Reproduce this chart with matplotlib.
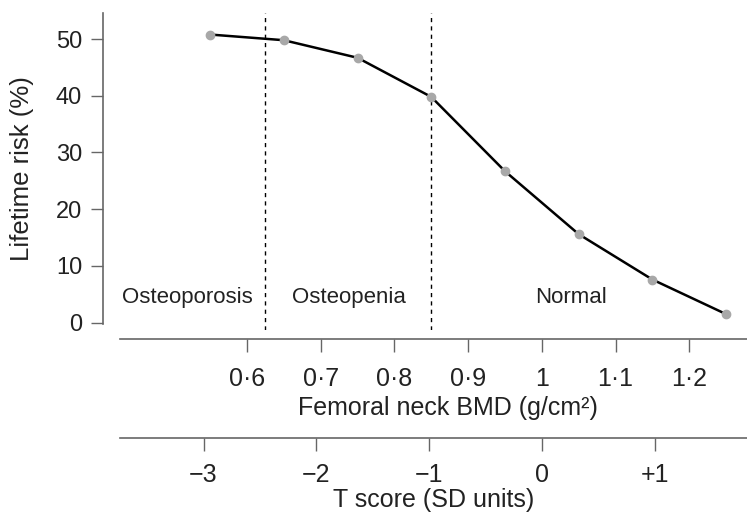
import matplotlib.pyplot as plt

# data
bmd = [0.55, 0.65, 0.75, 0.85, 0.95, 1.05, 1.15, 1.25]
risk = [50.8, 49.8, 46.7, 39.8, 26.7, 15.6, 7.6, 1.5]

bmd_ticks = [0.6, 0.7, 0.8, 0.9, 1.0, 1.1, 1.2]
bmd_labels = ['0·6', '0·7', '0·8', '0·9', '1', '1·1', '1·2']
t_ticks = [-3, -2, -1, 0, 1]
t_labels = ['\u22123', '\u22122', '\u22121', '0', '+1']
y_ticks = [0, 10, 20, 30, 40, 50]

cutoffs = [0.625, 0.85]  # T = -2.5 and T = -1
regions = ['Osteoporosis', 'Osteopenia', 'Normal']
region_x = [0.519, 0.738, 1.04]

# T score = (BMD - young adult mean) / SD
ref_mean = 1.0
ref_sd = 0.153


def to_t(x):
    return (x - ref_mean) / ref_sd


def to_bmd(t):
    return t * ref_sd + ref_mean


plt.rcParams['font.family'] = ['Liberation Sans', 'DejaVu Sans']
text_col = '#222222'
axis_col = '#666666'

fig = plt.figure(figsize=(7.47, 5.28), dpi=100)
ax = fig.add_axes([0.1379, 0.375, 0.8621, 0.6004])

ax.plot(bmd, risk, color='black', linewidth=1.8, zorder=2)
ax.plot(bmd, risk, linestyle='none', marker='o', markersize=6,
        color='#a8a8a8', zorder=3)

for c in cutoffs:
    ax.axvline(c, color='black', linewidth=1, dashes=(3, 3), zorder=1)

for name, x in zip(regions, region_x):
    ax.text(x, 4.4, name, ha='center', va='center', fontsize=16, color=text_col)

x_lo, x_hi = 0.4046, 1.2784
ax.set_xlim(x_lo, x_hi)
ax.set_ylim(-1.3, 54.6)

ax.spines['top'].set_visible(False)
ax.spines['right'].set_visible(False)
ax.spines['left'].set_bounds(-0.3, 54.6)
ax.spines['bottom'].set_position(('outward', 6.5))
ax.spines['bottom'].set_bounds(0.4277, x_hi)
for s in ['left', 'bottom']:
    ax.spines[s].set_color(axis_col)
    ax.spines[s].set_linewidth(1.2)

ax.set_yticks(y_ticks)
ax.set_xticks(bmd_ticks, bmd_labels)
ax.tick_params(axis='y', direction='out', length=9, width=1, color=axis_col,
               labelsize=17, labelcolor=text_col, pad=6)
ax.tick_params(axis='x', direction='out', length=9, width=1, color=axis_col,
               labelsize=18, labelcolor=text_col, pad=11)

ax.set_ylabel('Lifetime risk (%)', fontsize=18.5, color=text_col)
ax.yaxis.set_label_coords(-0.1258, 0.508)
ax.yaxis.label.set_va('center')
ax.set_xlabel('Femoral neck BMD (g/cm²)', fontsize=18, color=text_col)
ax.xaxis.set_label_coords(0.5357, -0.246)
ax.xaxis.label.set_va('center')

# second scale: T score
secax = ax.secondary_xaxis(-0.3407, functions=(to_t, to_bmd))
secax.set_xticks(t_ticks, t_labels)
secax.spines['bottom'].set_bounds(to_t(0.4277), to_t(x_hi))
secax.spines['bottom'].set_color(axis_col)
secax.spines['bottom'].set_linewidth(1.2)
secax.tick_params(axis='x', direction='out', length=9, width=1, color=axis_col,
                  labelsize=18, labelcolor=text_col, pad=9)
secax.set_xlabel('T score (SD units)', fontsize=18, color=text_col)
secax.xaxis.set_label_coords(0.513, -0.535, transform=ax.transAxes)
secax.xaxis.label.set_va('center')

fig.savefig('out.png', dpi=100)
